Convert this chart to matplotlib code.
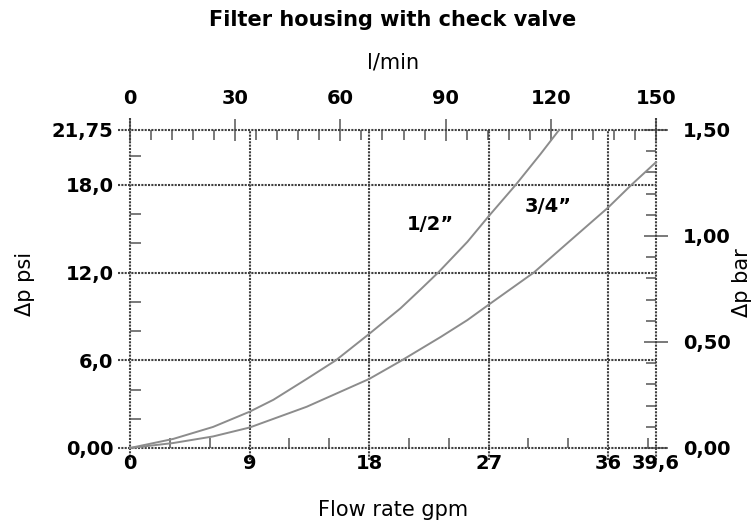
import numpy as np
import matplotlib
matplotlib.use("Agg")
import matplotlib.pyplot as plt
from matplotlib.ticker import FixedLocator

# ---- data ----
gpm_half = [0, 3.25, 6.25, 9, 10.8, 13.3, 15.5, 18, 20.36, 21.87, 23.2, 25.4, 27, 29.04, 30.9, 32.3]
psi_half = [0, 0.62, 1.44, 2.48, 3.3, 4.72, 6.0, 7.8, 9.55, 10.84, 12.0, 14.1, 15.85, 18.0, 20.1, 21.75]

gpm_3q = [0, 3.25, 6.25, 9, 13.3, 18, 20.36, 23.4, 25.4, 27, 30.4, 33.1, 36, 37.75, 39.6]
psi_3q = [0, 0.34, 0.79, 1.4, 2.82, 4.72, 5.94, 7.6, 8.75, 9.8, 12.0, 14.15, 16.45, 18.0, 19.55]

gpm_ticks = [0, 9, 18, 27, 36, 39.6]
gpm_labels = ["0", "9", "18", "27", "36", "39,6"]
psi_ticks = [0, 6, 12, 18, 21.75]
psi_labels = ["0,00", "6,0", "12,0", "18,0", "21,75"]
lpm_ticks = [0, 30, 60, 90, 120, 150]
lpm_labels = ["0", "30", "60", "90", "120", "150"]
bar_ticks = [0, 0.5, 1.0, 1.5]
bar_labels = ["0,00", "0,50", "1,00", "1,50"]

LPM_PER_GPM = 150 / 39.6
PSI_PER_BAR = 14.5

XMAX, YMAX = 39.6, 21.75

fig = plt.figure(figsize=(7.52, 5.29), dpi=100)
ax = fig.add_axes([130 / 752, 1 - 448 / 529, 526 / 752, 318 / 529])
ax.set_xlim(0, XMAX)
ax.set_ylim(0, YMAX)
for s in ax.spines.values():
    s.set_visible(False)

gc = "#404040"
gls = (0, (1.0, 0.6))
glw = 1.5
ex = 0.9   # gpm extension (~12 px)
ey = 0.8   # psi extension (~12 px)

def seg(xs, ys):
    ax.plot(xs, ys, color=gc, lw=glw, ls=gls, clip_on=False, zorder=1)

# vertical grid lines (extend below the bottom)
for x in gpm_ticks[1:-1]:
    seg([x, x], [-ey, YMAX])
# frame sides (extend both ways)
seg([0, 0], [-ey, YMAX + ey])
seg([XMAX, XMAX], [-ey, YMAX + ey])
# horizontal grid lines (extend to the left)
for y in psi_ticks:
    if y in (0, YMAX):
        seg([-ex, XMAX + ex], [y, y])
    else:
        seg([-ex, XMAX], [y, y])

# curves
ax.plot(gpm_half, psi_half, color="#8c8c8c", lw=1.4, zorder=3, clip_on=False)
ax.plot(gpm_3q, psi_3q, color="#8c8c8c", lw=1.4, zorder=3, clip_on=False)

bold = dict(family="DejaVu Sans", weight="bold", size=14)
ax.text(22.6, 15.3, "1/2\u201d", ha="center", va="center", **bold)
ax.text(31.5, 16.5, "3/4\u201d", ha="center", va="center", **bold)

tc = "#555555"
# bottom axis
ax.xaxis.set_major_locator(FixedLocator(gpm_ticks))
ax.set_xticklabels(gpm_labels, fontdict=bold)
ax.xaxis.set_minor_locator(FixedLocator([v for v in np.arange(3, 40, 3) if v % 9 != 0]))
ax.tick_params(axis="x", which="major", length=0, pad=4, top=False)
ax.tick_params(axis="x", which="minor", direction="in", length=7, width=1.1, color=tc, top=False)
# left axis
ax.yaxis.set_major_locator(FixedLocator(psi_ticks))
ax.set_yticklabels(psi_labels, fontdict=bold)
ax.yaxis.set_minor_locator(FixedLocator([2, 4, 8, 10, 14, 16, 20]))
ax.tick_params(axis="y", which="major", length=0, pad=12, right=False)
ax.tick_params(axis="y", which="minor", direction="in", length=8, width=1.1, color=tc, right=False)

# top axis: l/min
top = ax.secondary_xaxis("top", functions=(lambda g: g * LPM_PER_GPM, lambda l: l / LPM_PER_GPM))
for s in top.spines.values():
    s.set_visible(False)
top.xaxis.set_major_locator(FixedLocator(lpm_ticks))
top.set_xticklabels(lpm_labels, fontdict=bold)
top.xaxis.set_minor_locator(FixedLocator([v for v in range(6, 150, 6) if v % 30 != 0]))
top.tick_params(which="major", direction="inout", length=16, width=1.1, color=tc, pad=8)
top.tick_params(which="minor", direction="in", length=7, width=1.1, color=tc)

# right axis: bar
right = ax.secondary_yaxis("right", functions=(lambda p: p / PSI_PER_BAR, lambda b: b * PSI_PER_BAR))
for s in right.spines.values():
    s.set_visible(False)
right.yaxis.set_major_locator(FixedLocator(bar_ticks))
right.set_yticklabels(bar_labels, fontdict=bold)
right.yaxis.set_minor_locator(FixedLocator([round(v, 1) for v in np.arange(0.1, 1.5, 0.1) if abs(v * 2 - round(v * 2)) > 1e-6]))
right.tick_params(which="major", direction="inout", length=17, width=1.1, color=tc, pad=11)
right.tick_params(which="minor", direction="in", length=7, width=1.1, color=tc)

lab = dict(family="DejaVu Sans", size=15)
fig.text(0.5226, 1 - 20 / 529, "Filter housing with check valve", ha="center", va="center",
         family="DejaVu Sans", weight="heavy", size=15)
fig.text(0.5226, 1 - 62 / 529, "l/min", ha="center", va="center", **lab)
fig.text(0.5226, 1 - 510 / 529, "Flow rate gpm", ha="center", va="center", **lab)
fig.text(25 / 752, 1 - 284 / 529, "\u0394p psi", ha="center", va="center", rotation=90, **lab)
fig.text(742 / 752, 1 - 283 / 529, "\u0394p bar", ha="center", va="center", rotation=90, **lab)

fig.savefig("out.png", dpi=100)
